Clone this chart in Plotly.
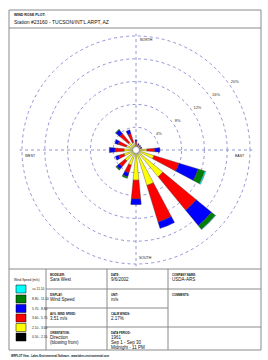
import plotly.graph_objects as go

W, H = 268, 360

# ---------------- data ----------------
directions = ["N", "NNE", "NE", "ENE", "E", "ESE", "SE", "SSE",
              "S", "SSW", "SW", "WSW", "W", "WNW", "NW", "NNW"]
angles = [i * 22.5 for i in range(16)]

speed_bins = ["0.50 - 2.10", "2.10 - 3.60", "3.60 - 5.70",
              "5.70 - 8.80", "8.80 - 11.10", ">= 11.10"]
bin_colors = ["#000000", "#FFFF00", "#FF0000", "#0000FF", "#008000", "#00FFFF"]

pct_050_210 = [0.2, 0.2, 0.2, 0.2, 0.3, 0.3, 0.4, 0.4, 0.4, 0.3, 0.3, 0.3, 0.3, 0.3, 0.3, 0.3]
pct_210_360 = [0.6, 0.4, 0.4, 0.4, 1.6, 3.0, 5.7, 6.1, 4.9, 2.5, 2.2, 1.9, 1.8, 1.5, 1.4, 1.1]
pct_360_570 = [0.7, 0.4, 0.3, 0.3, 1.4, 4.6, 7.6, 6.7, 3.3, 1.4, 1.3, 1.0, 1.6, 1.5, 2.0, 1.6]
pct_570_880 = [0.3, 0.2, 0.2, 0.2, 0.9, 3.5, 3.5, 1.2, 1.0, 0.7, 0.6, 0.6, 0.9, 0.6, 0.9, 0.7]
pct_880_1110 = [0, 0, 0, 0, 0, 1.2, 0.8, 0, 0, 0.3, 0.2, 0, 0.1, 0, 0.1, 0]
pct_ge_1110 = [0, 0, 0, 0, 0, 0.2, 0.1, 0, 0, 0, 0, 0, 0, 0, 0, 0]
series = [pct_050_210, pct_210_360, pct_360_570, pct_570_880, pct_880_1110, pct_ge_1110]

ring_ticks = [4, 8, 12, 16, 20]
ring_labels = ["4%", "8%", "12%", "16%", "20%"]

# ---------------- helpers (pixel -> paper) ----------------
def X(px):
    return px / W

def Y(py):
    return 1 - py / H

FONT = "Liberation Sans, Arial, sans-serif"
GRID = "#9494d4"
LINE = "#8a8a8a"

R_MAX = 20.4
CX, CY, RPX = 136, 150, 114 * 20.4 / 20

fig = go.Figure()

for vals, name, col in zip(series, speed_bins, bin_colors):
    fig.add_trace(go.Barpolar(
        r=vals, theta=angles, width=[11] * 16, name=name,
        marker=dict(color=col, line=dict(color="#444444", width=0.4)),
    ))

# ring labels
fig.add_trace(go.Scatterpolar(
    r=[t + 0.3 for t in ring_ticks], theta=[55] * len(ring_ticks),
    mode="text", text=ring_labels, textposition="top right", cliponaxis=False,
    textfont=dict(size=4, color="#333333", family=FONT),
))
# calm circle
fig.add_trace(go.Scatterpolar(
    r=[0], theta=[0], mode="markers",
    marker=dict(size=7, color="white", line=dict(color="#777777", width=0.8)),
))

fig.update_layout(
    width=W, height=H, margin=dict(l=0, r=0, t=0, b=0),
    paper_bgcolor="white", showlegend=False,
    polar=dict(
        domain=dict(x=[X(CX - RPX), X(CX + RPX)], y=[Y(CY + RPX), Y(CY - RPX)]),
        bgcolor="white",
        barmode="stack",
        radialaxis=dict(range=[0, R_MAX], tickvals=ring_ticks, showticklabels=False,
                        ticks="", showline=False, gridcolor=GRID, griddash="dot",
                        gridwidth=0.8),
        angularaxis=dict(direction="clockwise", rotation=90, tickvals=[0, 90, 180, 270],
                         showticklabels=False, ticks="", showline=False,
                         gridcolor=GRID, griddash="dot", gridwidth=0.8),
    ),
)

shapes = []
def hline(y, x0, x1):
    shapes.append(dict(type="line", xref="paper", yref="paper", x0=X(x0), x1=X(x1),
                       y0=Y(y), y1=Y(y), line=dict(color=LINE, width=1)))
def vline(x, y0, y1):
    shapes.append(dict(type="line", xref="paper", yref="paper", x0=X(x), x1=X(x),
                       y0=Y(y0), y1=Y(y1), line=dict(color=LINE, width=1)))

shapes.append(dict(type="rect", xref="paper", yref="paper", x0=X(9), x1=X(261),
                   y0=Y(350), y1=Y(10), line=dict(color=LINE, width=1)))
hline(28, 9, 261)
hline(269, 9, 261)
for vx in (46, 107, 168):
    vline(vx, 269, 350)
for hy in (289, 308, 327):
    hline(hy, 46, 168)
hline(289, 168, 261)
hline(327, 168, 261)

# legend swatches
sw_centers = [289, 299, 308.5, 318, 327.5, 337]
for c, col in zip(sw_centers, bin_colors[::-1]):
    shapes.append(dict(type="rect", xref="paper", yref="paper", x0=X(16), x1=X(26),
                       y0=Y(c + 4), y1=Y(c - 4), fillcolor=col,
                       line=dict(color="#000000", width=0.5)))

ann = []
def txt(x, y, s, size=4, bold=False, anchor="left", yanchor="top", color="#111111"):
    if bold:
        s = "<b>" + s + "</b>"
    ann.append(dict(x=X(x), y=Y(y), xref="paper", yref="paper", text=s, showarrow=False,
                    xanchor=anchor, yanchor=yanchor, align="left",
                    font=dict(size=size, family=FONT, color=color)))

txt(12, 11, "WIND ROSE PLOT:", size=3.5, bold=True)
txt(12, 17, "Station #23160 - TUCSON/INT'L ARPT, AZ", size=5)

txt(138, 36, "NORTH", size=3.5)
txt(137, 262, "SOUTH", size=3.5, yanchor="bottom")
txt(23, 152, "WEST", size=3.5)
txt(247, 152, "EAST", size=3.5, anchor="right")

for c, lab in zip(sw_centers, speed_bins[::-1]):
    txt(30, c, lab, size=3.2, yanchor="middle")
txt(12, 280, "Wind Speed (m/s)", size=3.2, yanchor="middle")

cells = [
    (48, 270, "MODELER:", ["Sara West"]),
    (48, 290, "DISPLAY:", ["Wind Speed"]),
    (48, 309, "AVG. WIND SPEED:", ["3.51 m/s"]),
    (48, 328, "ORIENTATION:", ["Direction", "(blowing from)"]),
    (109, 270, "DATE:", ["9/6/2002"]),
    (109, 290, "UNIT:", ["m/s"]),
    (109, 309, "CALM WINDS:", ["2.17%"]),
    (109, 328, "DATA PERIOD:", ["1961", "Sep 1 - Sep 30", "Midnight - 11 PM"]),
    (170, 270, "COMPANY NAME:", ["USDA-ARS"]),
    (170, 290, "COMMENTS:", []),
]
for cx, cy, lab, vals in cells:
    txt(cx, cy + 1, lab, size=2.8, bold=True)
    for i, v in enumerate(vals):
        txt(cx, cy + 5 + i * 5, v, size=4.5)

txt(9, 351.5, "WRPLOT View - Lakes Environmental Software - www.lakes-environmental.com",
    size=2.6, bold=True)

fig.update_layout(shapes=shapes, annotations=ann)
fig.write_html("out.html")
